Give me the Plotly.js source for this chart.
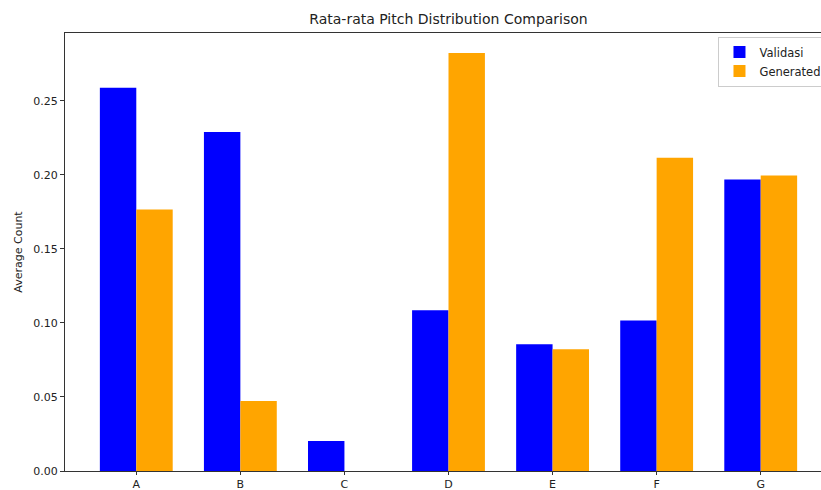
<!DOCTYPE html>
<html><head><meta charset="utf-8">
<script src="https://cdn.plot.ly/plotly-3.0.1.min.js"></script>
<style>html,body{margin:0;padding:0;overflow:hidden;background:#fff;}#chart{width:880px;height:490px;}</style>
</head><body><div id="chart"></div>
<script>
const categories = ["A","B","C","D","E","F","G"];
const validasi = [0.2588, 0.2290, 0.0202, 0.1085, 0.0856, 0.1017, 0.1968];
const generated = [0.1766, 0.0472, 0.0, 0.2823, 0.0822, 0.2116, 0.1995];
const yTicks = [0, 0.05, 0.10, 0.15, 0.20, 0.25];
const yTickText = ["0.00","0.05","0.10","0.15","0.20","0.25"];

const xs = categories.map((c,i)=>i);
const font = {family:"DejaVu Sans", size:11, color:"#222"};
const traces = [
  {type:"bar", name:"Validasi", x:xs.map(v=>v-0.175), y:validasi, width:0.35, marker:{color:"#0000ff"}},
  {type:"bar", name:"Generated", x:xs.map(v=>v+0.175), y:generated, width:0.35, marker:{color:"#ffa500"}}
];
const layout = {
  width:880, height:490,
  margin:{l:65, r:48, t:33, b:19},
  paper_bgcolor:"#fff", plot_bgcolor:"#fff",
  font:font,
  barmode:"overlay",
  showlegend:true,
  title:{text:"Rata-rata Pitch Distribution Comparison", font:{family:"DejaVu Sans", size:14, color:"#222"}, x:0.5, xref:"paper", y:1-19/490, yref:"container", yanchor:"middle"},
  xaxis:{range:[-0.685,6.685], tickvals:xs, ticktext:categories, ticks:"outside", ticklen:3, tickcolor:"#333",
    showgrid:false, zeroline:false, showline:true, linecolor:"#333", linewidth:1, mirror:true, tickfont:font},
  yaxis:{range:[0,0.2958], tickvals:yTicks, ticktext:yTickText, ticks:"outside", ticklen:4, tickcolor:"#333",
    showgrid:false, zeroline:false, showline:true, linecolor:"#333", linewidth:1, mirror:true, tickfont:font,
    title:{text:"Average Count", font:{family:"DejaVu Sans", size:11, color:"#222"}, standoff:8}},
  legend:{x:0.852, y:0.992, xanchor:"left", yanchor:"top", bgcolor:"rgba(255,255,255,0.8)", bordercolor:"#ccc", borderwidth:1,
    font:{family:"DejaVu Sans", size:11.5, color:"#222"}, tracegroupgap:0}
};
Plotly.newPlot("chart", traces, layout, {displayModeBar:false, staticPlot:true});
</script></body></html>
